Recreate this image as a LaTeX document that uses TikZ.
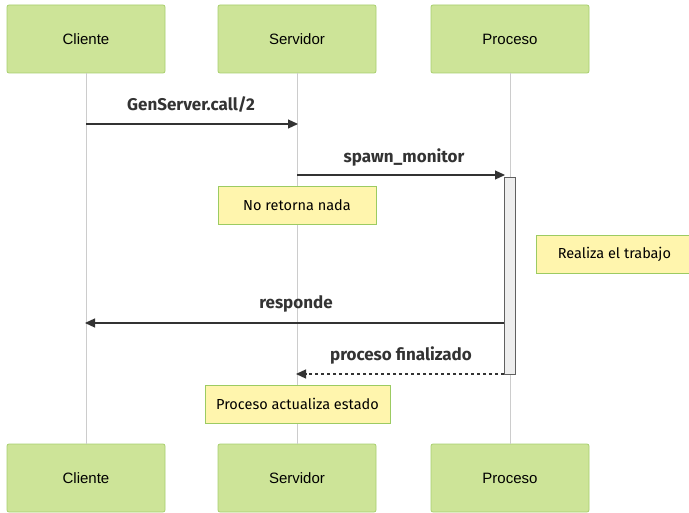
\documentclass[tikz,border=0pt]{standalone}
\usepackage{fontspec}
\setmainfont{Liberation Sans}
\newfontfamily\msgfont{Fira Sans}
\usetikzlibrary{arrows.meta}
\definecolor{actorfill}{HTML}{CDE498}
\definecolor{actorline}{HTML}{A8CF6E}
\definecolor{notefill}{HTML}{FFF5AD}
\definecolor{noteline}{HTML}{9CCB62}
\definecolor{lifeline}{HTML}{CCCCCC}
\definecolor{msgcol}{HTML}{333333}
\definecolor{actfill}{HTML}{EEEEEE}
\begin{document}
\begin{tikzpicture}[x=1pt,y=-1pt,
  actor/.style={draw=actorline,fill=actorfill,line width=0.8pt,rounded corners=2pt,
    minimum width=158pt,minimum height=68pt,inner sep=0pt,font=\fontsize{15}{17}\selectfont},
  note/.style={draw=noteline,fill=notefill,line width=0.8pt,minimum height=38pt,inner sep=0pt,
    font=\msgfont\fontsize{14.5}{16}\selectfont},
  life/.style={draw=lifeline,line width=0.8pt},
  msg/.style={draw=msgcol,line width=1.2pt,-{Triangle[length=10pt,width=9pt]}},
  reply/.style={msg,dashed,dash pattern=on 3pt off 3pt},
  lbl/.style={text=msgcol,font=\msgfont\fontsize{17}{19}\selectfont\bfseries},
  activation/.style={draw=gray!75!black,fill=actfill,line width=0.8pt}]
\useasboundingbox (0,0) rectangle (689,513);

% participants, top and bottom
\node[actor] (ct) at (86,39) {Cliente};
\node[actor] (st) at (297,39) {Servidor};
\node[actor] (pt) at (510,39) {Proceso};
\node[actor] (cb) at (86,478) {Cliente};
\node[actor] (sb) at (297,478) {Servidor};
\node[actor] (pb) at (510,478) {Proceso};

% lifelines
\draw[life] (ct.south) -- (cb.north);
\draw[life] (st.south) -- (sb.north);
\draw[life] (pt.south) -- (pb.north);

% activation of Proceso
\draw[activation] (504,177) rectangle (515,374);
\coordinate (actin) at (505,175);
\coordinate (actresp) at (504,323);
\coordinate (actend) at (504,374);

% messages
\coordinate (c1) at (86,124);
\coordinate (s1) at (298,124);
\draw[msg] (c1) -- (s1);
\node[lbl] at (191,105) {GenServer.call/2};

\coordinate (s2) at (297,175);
\draw[msg] (s2) -- (actin);
\node[lbl] at (404,157) {spawn\_monitor};

\coordinate (c3) at (85,323);
\draw[msg] (actresp) -- (c3);
\node[lbl] at (296,304) {responde};

\coordinate (s4) at (296,374);
\draw[reply] (actend) -- (s4);
\node[lbl] at (401,355) {proceso finalizado};

% notes
\node[note,minimum width=158pt] (n1) at (297,205) {No retorna nada};
\node[note,anchor=west,minimum width=160pt] (n2) at (536,254) {\hspace*{-2pt}Realiza el trabajo\hspace*{2pt}};
\node[note,minimum width=185pt] (n3) at (297.5,404) {Proceso actualiza estado};
\end{tikzpicture}
\end{document}
